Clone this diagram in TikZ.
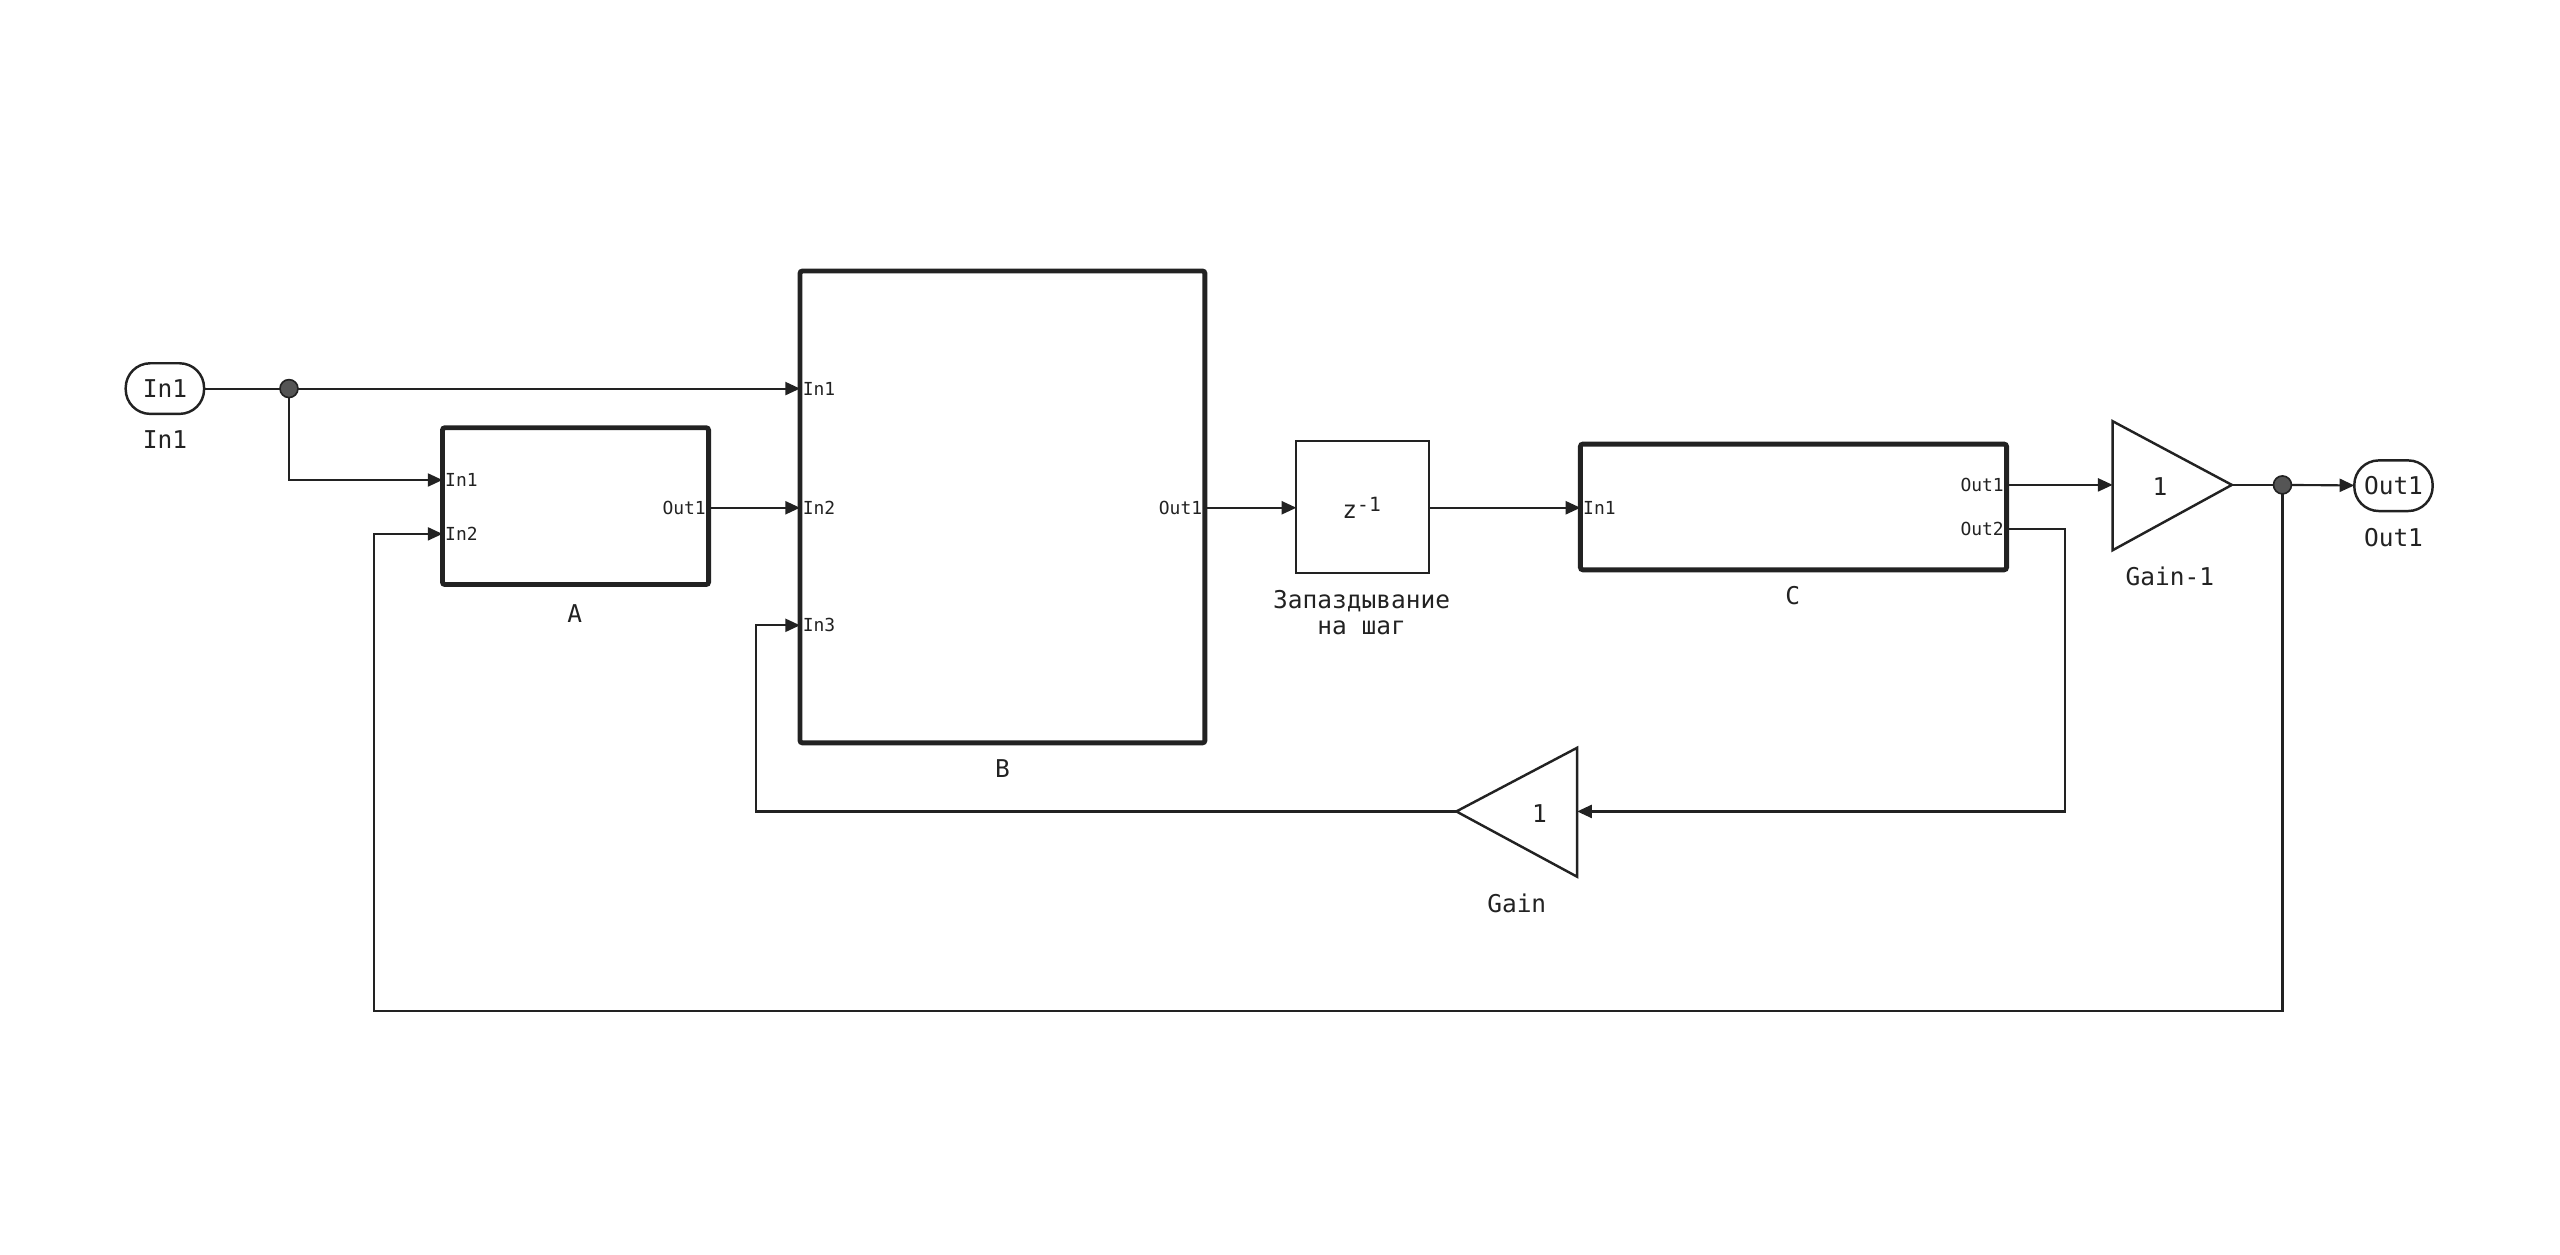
\documentclass[tikz,border=0pt]{standalone}
\usepackage{fontspec}
\setmonofont{DejaVu Sans Mono}
\usetikzlibrary{arrows.meta,calc}
\definecolor{ink}{HTML}{222222}
\definecolor{dotgray}{HTML}{555555}
\begin{document}
\begin{tikzpicture}[x=1pt,y=-1pt,
  line join=miter,
  wire/.style={line width=1.3pt, draw=ink, -{Triangle[length=9pt,width=8pt]}},
  plainwire/.style={line width=1.3pt, draw=ink},
  sub/.style={draw=ink, line width=3pt, rounded corners=1.5pt, inner sep=0pt, outer sep=0pt},
  thinbox/.style={draw=ink, line width=1.3pt, inner sep=0pt, outer sep=0pt},
  pill/.style={draw=ink, line width=1.5pt, rounded corners=15pt, inner sep=0pt, outer sep=0pt,
     minimum width=48pt, minimum height=31pt, font=\ttfamily\fontsize{15}{18}\selectfont, text=ink},
  dot/.style={circle, draw=ink, line width=1pt, fill=dotgray, minimum size=11pt, inner sep=0pt, outer sep=0pt},
  lbl/.style={font=\ttfamily\fontsize{15}{18}\selectfont, text=ink, inner sep=0pt, align=center},
  plbl/.style={font=\ttfamily\fontsize{11}{13}\selectfont, text=ink, inner sep=1.5pt},
  tri/.style={draw=ink, line width=1.5pt, line join=miter}
]
\useasboundingbox (0,0) rectangle (1568,768.6);

% ---------- blocks ----------
\node[pill] (in1) at (101,238) {In1};
\node[lbl] (in1l) at (101,269) {In1};

\node[dot] (j1) at (177,238) {};

\node[sub, minimum width=163pt, minimum height=96pt] (A) at (352.5,310) {};
\node[lbl] (Al) at (352,376) {A};

\node[sub, minimum width=248pt, minimum height=289pt] (B) at (614,310.5) {};
\node[lbl] (Bl) at (614,471) {B};

\node[thinbox, minimum width=81pt, minimum height=81pt] (D) at (834.5,310.5) {};
\node[lbl] (Dt) at (834,311) {z\raisebox{0.55ex}{\fontsize{12}{14}\selectfont -1}};
\node[lbl, font=\ttfamily\fontsize{15}{16}\selectfont] (Dl) at (834,375) {Запаздывание\\на шаг};

\node[sub, minimum width=261pt, minimum height=77pt] (C) at (1098.5,310.5) {};
\node[lbl] (Cl) at (1098,365) {C};

% Gain-1 triangle
\coordinate (g1a) at (1294,258);
\coordinate (g1b) at (1367,297);
\coordinate (g1c) at (1294,337);
\draw[tri] (g1a) -- (g1b) -- (g1c) -- cycle;
\node[lbl] (g1t) at (1323,298) {1};
\node[lbl] (g1l) at (1329,353) {Gain-1};

\node[dot] (j2) at (1398,297) {};

\node[pill] (out1) at (1466,297.5) {Out1};
\node[lbl] (out1l) at (1466,329) {Out1};

% Gain triangle (pointing left)
\coordinate (g2a) at (966,458);
\coordinate (g2b) at (892,497);
\coordinate (g2c) at (966,537);
\draw[tri] (g2a) -- (g2b) -- (g2c) -- cycle;
\node[lbl] (g2t) at (943,498) {1};
\node[lbl] (g2l) at (929,553) {Gain};

% ---------- ports ----------
\coordinate (Ain1) at (271,294);
\coordinate (Ain2) at (271,327);
\coordinate (Aout1) at (434,311);
\coordinate (Bin1) at (490,238);
\coordinate (Bin2) at (490,311);
\coordinate (Bin3) at (490,383);
\coordinate (Bout1) at (738,311);
\coordinate (Din) at (794,311);
\coordinate (Dout) at (875,311);
\coordinate (Cin1) at (968,311);
\coordinate (Cout1) at (1229,297);
\coordinate (Cout2) at (1229,324);
\coordinate (G1in) at (1294,297);
\coordinate (G1out) at (1367,297);
\coordinate (G2in) at (966,497);
\coordinate (G2out) at (892,497);

\node[plbl, anchor=west] (pAin1) at (Ain1) {In1};
\node[plbl, anchor=west] (pAin2) at (Ain2) {In2};
\node[plbl, anchor=east] (pAout1) at (Aout1) {Out1};
\node[plbl, anchor=west] (pBin1) at (Bin1) {In1};
\node[plbl, anchor=west] (pBin2) at (Bin2) {In2};
\node[plbl, anchor=west] (pBin3) at (Bin3) {In3};
\node[plbl, anchor=east] (pBout1) at (Bout1) {Out1};
\node[plbl, anchor=west] (pCin1) at (Cin1) {In1};
\node[plbl, anchor=east] (pCout1) at (Cout1) {Out1};
\node[plbl, anchor=east] (pCout2) at (Cout2) {Out2};

% ---------- routing points ----------
\coordinate (r1) at (1265,497);
\coordinate (r2) at (463,383);
\coordinate (r3) at (229,619);

% ---------- connectors ----------
\draw[plainwire] (in1) -- (j1);
\draw[wire] (j1) -- (Bin1);
\draw[wire] (j1) |- (Ain1);
\draw[wire] (Aout1) -- (Bin2);
\draw[wire] (Bout1) -- (Din);
\draw[wire] (Dout) -- (Cin1);
\draw[wire] (Cout1) -- (G1in);
\draw[plainwire] (G1out) -- (j2);
\draw[wire] (j2) -- (out1);
\draw[wire] (Cout2) -| (r1) -- (G2in);
\draw[wire] (G2out) -| (r2) -- (Bin3);
\draw[wire] (j2) |- (r3) |- (Ain2);
\end{tikzpicture}
\end{document}
